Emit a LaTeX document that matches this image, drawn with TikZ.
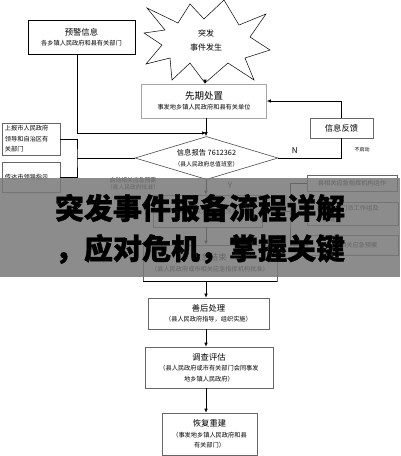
\documentclass[tikz,border=0pt]{standalone}
\usepackage{fontspec}
\setmainfont{Noto Sans CJK SC}
\newfontfamily\heavy{Noto Sans CJK SC}[BoldFeatures={FakeBold=1.2}]
\usetikzlibrary{shapes.geometric,arrows.meta}

\newcommand\boxhead[1]{{\fontsize{8.3}{11}\selectfont #1}}
\newcommand\boxnote[1]{{\fontsize{6.2}{10}\selectfont #1}}

\begin{document}
\begin{tikzpicture}[x=1pt,y=-1pt,
  box/.style={draw=black!60,line width=0.6pt,inner sep=0pt,align=center,
    font=\fontsize{6.2}{10.5}\selectfont},
  link/.style={line width=0.7pt},
  flow/.style={link,-{Latex[length=4pt,width=3.5pt]}},
  tag/.style={inner sep=0pt,font=\fontsize{6}{8}\selectfont,align=center},
  banner/.style={inner sep=0pt,font=\heavy\fontsize{29}{32}\selectfont\bfseries}]
  \useasboundingbox (0,0) rectangle (400,456);
  \coordinate (spine) at (206,0);

  % top row
  \node[box,draw=black,line width=0.8pt,minimum width=107,minimum height=34]
    (warn) at (81.5,37) {\boxhead{预警信息}\\\boxnote{各乡镇人民政府和县有关部门}};
  \draw[line width=0.5pt] (147,8) -- (178,23) -- (190,4) -- (204,19) -- (224,0)
    -- (239,25) -- (266,14) -- (250,37) -- (270,50) -- (245,58) -- (254,80)
    -- (228,63) -- (205,83) -- (190,63) -- (172,80) -- (170,58) -- (146,64)
    -- (162,45) -- (144,33) -- (165,30) -- cycle;
  \node[tag,font=\fontsize{8}{14}\selectfont] (burst) at (206,40) {突发\\事件发生};
  \coordinate (burst tip) at (205,83);
  \node[box,draw=black!35,minimum width=125,minimum height=34]
    (first) at (204,101) {{\fontsize{9.5}{12}\selectfont 先期处置}\\\boxnote{事发地乡镇人民政府和县有关单位}};
  \draw[flow] (burst tip) -- (first.north -| burst tip);

  % report
  \node[box,draw,diamond,aspect=3.3,minimum width=143,minimum height=43,
    draw=black!70] (report) at (206.5,158)
    {\fontsize{7.3}{9}\selectfont 信息报告 7612362\\\fontsize{5.8}{8}\selectfont （县人民政府总值班室）};
  \coordinate (join) at (206,133);
  \coordinate (split) at (77,158);
  \draw[flow] (first.south -| spine) -- (report.north -| spine);
  \draw[flow] (warn.south -| split) |- (join);

  \node[box,align=left,minimum width=58,minimum height=32,text width=52]
    (upper) at (31,139) {上报市人民政府\\领导和自治区有\\关部门};
  \node[box,align=left,minimum width=58,minimum height=30,text width=52]
    (lower) at (31,177) {传达市领导指示};
  \draw[link] (report.west) -- (split);
  \draw[link] (upper.east) -| (split) |- (lower.east);

  \node[box,minimum width=63,minimum height=20] (feedback) at (341.5,128)
    {\boxhead{信息反馈}};
  \draw[link] (report.east) -| node[tag,pos=0.13,above=4pt,font=\fontsize{8}{9}\selectfont] (no) {N}
    (feedback.south);
  \draw[flow] (feedback.north) |- (first.east);
  \node[tag,font=\fontsize{5}{6}\selectfont] (skip) at (362,150) {不启动};

  % response
  \node[tag,font=\fontsize{5.8}{7.5}\selectfont] (plan) at (133,184)
    {启动相关应急预案\\（县人民政府批准）};
  \node[tag,font=\fontsize{8}{9}\selectfont] (yes) at (230,186) {Y};
  \node[box,minimum width=109,minimum height=32] (command) at (207.5,211)
    {县人民政府成立现场应急指挥部};
  \draw[flow] (report.south -| spine) -- (command.north -| spine);
  \node[box,minimum width=134,minimum height=36] (close) at (210,263)
    {\boxhead{应急结束}\\\boxnote{（县人民政府或市相关应急指挥机构批准）}};
  \draw[flow] (command.south -| spine) -- (close.north -| spine);

  \coordinate (fork) at (290,211);
  \node[box,minimum width=90,minimum height=16] (agency) at (352,183)
    {县相关应急指挥机构运作};
  \node[box,minimum width=91,minimum height=23,align=left,text width=72] (team) at (352.5,213.5)
    {县有关部门派工作组及\\专家组};
  \node[box,minimum width=91,minimum height=20] (special) at (352.5,245)
    {启动相关应急预案};
  \draw[link] (command.east) -- (fork);
  \draw[link] (agency.west) -| (fork) |- (special.west);
  \draw[link] (fork |- team.west) -- (team.west);

  % overlay band with title
  \fill[black!53,opacity=0.85] (0,178) rectangle (400,277);
  \node[banner] (title) at (200,208) {突发事件报备流程详解};
  \node[banner] (subtitle) at (200,249) {，应对危机，掌握关键};

  % aftermath
  \node[box,minimum width=121,minimum height=31] (after) at (208.5,313.5)
    {\boxhead{善后处理}\\\boxnote{（县人民政府指导，组织实施）}};
  \node[box,minimum width=128,minimum height=41] (survey) at (209,367.5)
    {\boxhead{调查评估}\\（县人民政府或市有关部门会同事发\\地乡镇人民政府）};
  \node[box,minimum width=95,minimum height=42] (rebuild) at (209.5,434)
    {\boxhead{恢复重建}\\（事发地乡镇人民政府和县\\有关部门）};
  \draw[link] (close.south west) -- (close.south east);
  \draw[flow] (close.south -| spine) -- (after.north -| spine);
  \draw[flow] (after.south -| spine) -- (survey.north -| spine);
  \draw[flow] (survey.south -| spine) -- (rebuild.north -| spine);
\end{tikzpicture}
\end{document}
